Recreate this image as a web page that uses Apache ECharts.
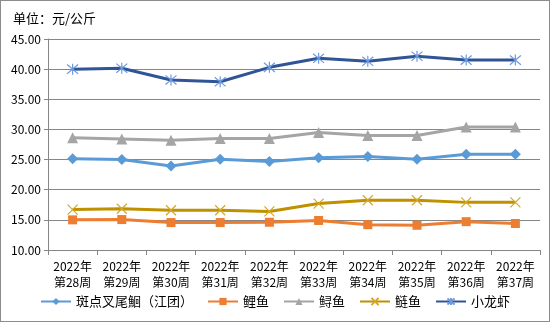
<!DOCTYPE html>
<html><head><meta charset="utf-8">
<script src="https://cdn.jsdelivr.net/npm/echarts@6/dist/echarts.min.js"></script>
<style>html,body{margin:0;padding:0;background:#fff}#c{width:550px;height:322px;box-sizing:border-box;border:1px solid #8c8c8c}</style>
</head><body><div id="c"></div>
<script>
const categories = ['2022年\n第28周','2022年\n第29周','2022年\n第30周','2022年\n第31周','2022年\n第32周','2022年\n第33周','2022年\n第34周','2022年\n第35周','2022年\n第36周','2022年\n第37周'];
const seriesNames = ['斑点叉尾鮰（江团）','鲤鱼','鲟鱼','鲢鱼','小龙虾'];
const banDian = [25.15,25.0,23.95,25.05,24.7,25.3,25.5,25.05,25.9,25.9];
const liYu = [15.0,15.05,14.55,14.55,14.6,14.9,14.2,14.1,14.7,14.4];
const xunYu = [28.6,28.4,28.2,28.5,28.5,29.5,29.0,29.0,30.4,30.4];
const lianYu = [16.7,16.85,16.6,16.6,16.4,17.7,18.25,18.25,17.9,17.9];
const xiaoLongXia = [40.0,40.15,38.2,37.9,40.3,41.8,41.3,42.15,41.5,41.5];
const yTicks = {min:10, max:45, interval:5};

const font = '"Noto Sans CJK SC", sans-serif';
const chart = echarts.init(document.getElementById('c'));
function mk(name, data, color, mColor, symbol, size, stroke){
  return {
    name, type:'line', data, symbol, symbolSize:size,
    lineStyle:{color, width:3},
    itemStyle: stroke ? {color:mColor, borderColor:mColor, borderWidth:1.2} : {color:mColor},
    emphasis:{disabled:true}
  };
}
const xPath = 'path://M0,0L10,10M10,0L0,10';
const starPath = 'path://M0,0L10,10M10,0L0,10M5,-1L5,11';
chart.setOption({
  animation:false,
  textStyle:{fontFamily:font},
  title:{text:'单位：元/公斤', left:7, top:6, textStyle:{fontSize:13, fontWeight:'normal', color:'#000', fontFamily:font}},
  grid:{left:47, right:9, top:38, bottom:71},
  legend:{bottom:8, left:'center', itemWidth:30, itemHeight:9, itemGap:14,
    textStyle:{fontSize:13, color:'#000', fontFamily:font}},
  xAxis:{type:'category', data:categories, boundaryGap:true,
    axisLine:{lineStyle:{color:'#868686'}},
    axisTick:{show:true, length:5, lineStyle:{color:'#868686'}},
    axisLabel:{fontSize:12, color:'#000', lineHeight:16, margin:8, interval:0}},
  yAxis:{type:'value', min:yTicks.min, max:yTicks.max, interval:yTicks.interval,
    axisLine:{show:true, lineStyle:{color:'#868686'}},
    axisTick:{show:true, length:4, lineStyle:{color:'#868686'}},
    splitLine:{lineStyle:{color:'#868686'}},
    axisLabel:{fontSize:12, color:'#000', margin:7, formatter:v=>v.toFixed(2)}},
  series:[
    mk(seriesNames[0], banDian, '#5B9BD5', '#5B9BD5', 'diamond', 11, false),
    mk(seriesNames[1], liYu, '#ED7D31', '#ED7D31', 'rect', 9, false),
    mk(seriesNames[2], xunYu, '#A5A5A5', '#A5A5A5', 'triangle', 11, false),
    mk(seriesNames[3], lianYu, '#BF9000', '#D4A82A', xPath, 10, true),
    mk(seriesNames[4], xiaoLongXia, '#2F5597', '#6E9AE0', starPath, 11, true)
  ]
});
</script></body></html>
